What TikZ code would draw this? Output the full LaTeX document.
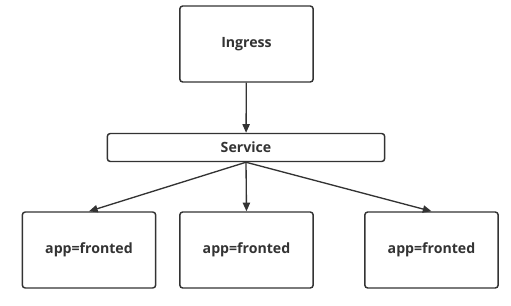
\documentclass[tikz,border=0pt]{standalone}
\usepackage{fontspec}
\setmainfont{Open Sans}
\usetikzlibrary{arrows.meta}
\definecolor{gris}{HTML}{333333}
\begin{document}
\begin{tikzpicture}[
            x=0.75pt, y=-0.75pt,
            caja/.style={draw=gris, fill=white, line width=1.1pt, rounded corners=2.2pt, text=gris, font=\bfseries\fontsize{10.6}{12}\selectfont, inner sep=0pt},
            flecha/.style={draw=gris, line width=1pt, -{Triangle[length=6.5pt, width=5.5pt]}}
        ]
        \useasboundingbox (0, 0) rectangle (511, 305);

        % --- INGRESS ---
        \node[caja, minimum width=100pt, minimum height=57pt] (ingress) at (246.5, 44) {Ingress};

        % --- SERVICE ---
        \node[caja, minimum width=208pt, minimum height=21pt] (service) at (246, 147.5) {Service};

        % --- PODS ---
        \node[caja, minimum width=100pt, minimum height=57pt] (app1) at (89, 250) {app=fronted};
        \node[caja, minimum width=100pt, minimum height=57pt] (app2) at (246.5, 250) {app=fronted};
        \node[caja, minimum width=100pt, minimum height=57pt] (app3) at (431.5, 250) {app=fronted};

        \draw[flecha] (ingress) -- (service);
        \draw[flecha] (service.south) -- (app1.north);
        \draw[flecha] (service.south) -- (app2.north);
        \draw[flecha] (service.south) -- (app3.north);
    \end{tikzpicture}
\end{document}
